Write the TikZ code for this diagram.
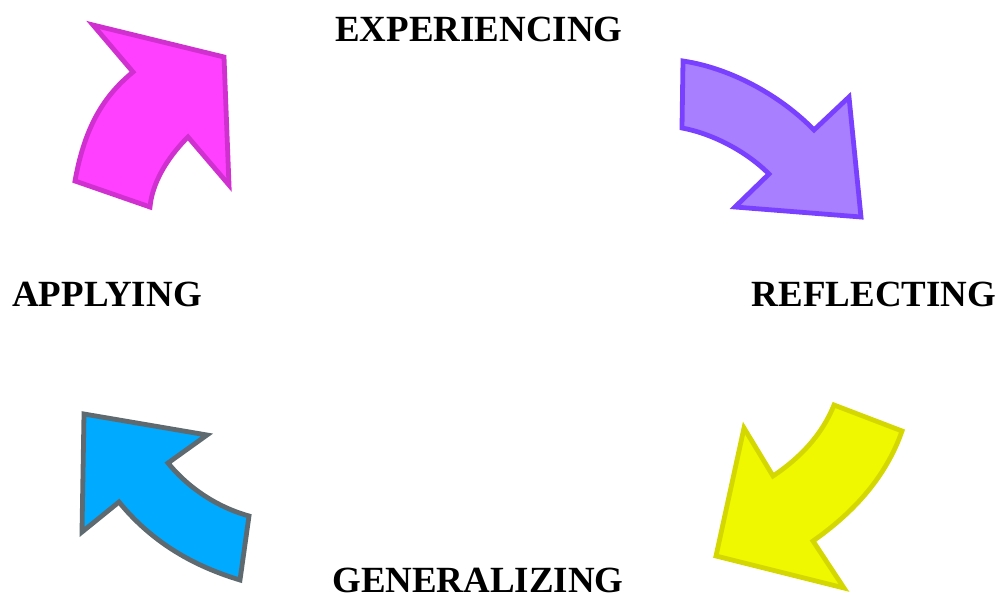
\documentclass[tikz,border=0pt]{standalone}
\usepackage{fontspec}
\setmainfont{Liberation Serif}

\definecolor{magfill}{HTML}{FF40FF}
\definecolor{magline}{HTML}{D030D0}
\definecolor{purfill}{HTML}{A880FF}
\definecolor{purline}{HTML}{7A40FF}
\definecolor{yelfill}{HTML}{F0F800}
\definecolor{yelline}{HTML}{D4D800}
\definecolor{bluefill}{HTML}{00AAFF}
\definecolor{blueline}{HTML}{5E6A70}

\tikzset{
  stage/.style={font=\fontsize{27.7}{30}\selectfont\bfseries, inner sep=0pt},
  bentarrow/.style={line width=3.6pt, line join=miter}
}

\begin{document}
\begin{tikzpicture}[x=0.75pt,y=0.75pt,yscale=-1,xscale=1]
  \useasboundingbox (0,0) rectangle (1001,598);

  % stage labels
  \node[stage] (exp) at (479,29) {EXPERIENCING};
  \node[stage] (ref) at (874,294) {REFLECTING};
  \node[stage] (gen) at (478,580) {GENERALIZING};
  \node[stage] (app) at (107,294) {APPLYING};

  % top right
  \draw[bentarrow, draw=purline, fill=purfill] (683,61)
      .. controls (730,68) and (780,95) .. (814,130)
      -- (849,97) -- (861,217) -- (735,207) -- (769,174)
      .. controls (745,150) and (710,133) .. (682,128) -- cycle;

  % bottom right
  \draw[bentarrow, draw=yelline, fill=yelfill] (834,405)
      -- (902,431)
      .. controls (885,480) and (850,515) .. (813,541)
      -- (844,588) -- (716,556) -- (744,428) -- (773,476)
      .. controls (800,458) and (822,435) .. cycle;

  % bottom left
  \draw[bentarrow, draw=blueline, fill=bluefill] (84,414)
      -- (207,435) -- (168,463)
      .. controls (190,490) and (220,508) .. (249,516)
      -- (240,580)
      .. controls (190,565) and (150,540) .. (119,502)
      -- (82,532) -- cycle;

  % top left
  \draw[bentarrow, draw=magline, fill=magfill] (93,25)
      -- (224,57) -- (229,185) -- (188,137)
      .. controls (165,160) and (152,185) .. (150,207)
      -- (75,181)
      .. controls (85,125) and (105,95) .. (133,72) -- cycle;
\end{tikzpicture}
\end{document}
